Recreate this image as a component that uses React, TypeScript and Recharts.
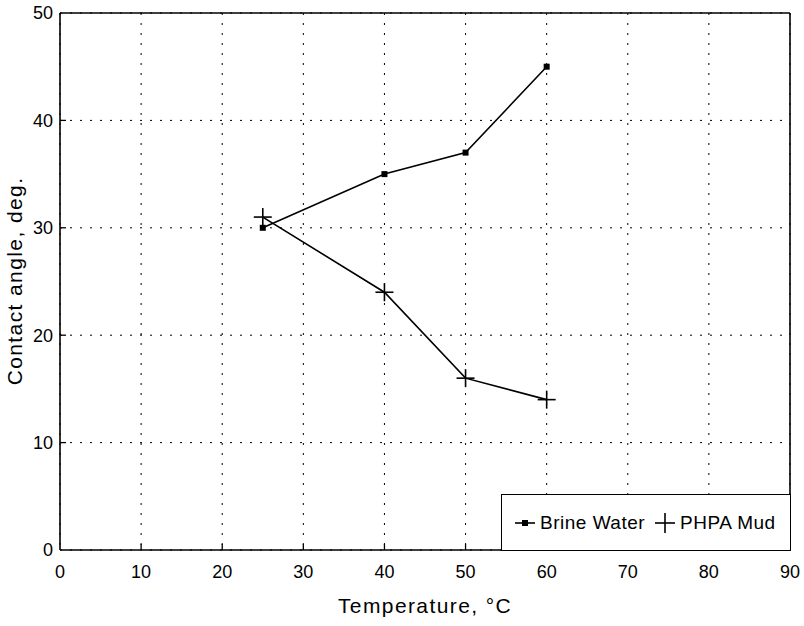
import React from "react";
import { LineChart, Line, XAxis, YAxis, CartesianGrid } from "recharts";

const temperatures = [25, 40, 50, 60];
const brineWater = [30, 35, 37, 45];
const phpaMud = [31, 24, 16, 14];
const xTicks = [0, 10, 20, 30, 40, 50, 60, 70, 80, 90];
const yTicks = [0, 10, 20, 30, 40, 50];

const data = temperatures.map((t, i) => ({ t, brine: brineWater[i], phpa: phpaMud[i] }));

const FONT = "'Liberation Sans', Arial, Helvetica, sans-serif";
const X_MARGIN = 15;
const Y_MARGIN = 7;

const XTick = (props: any) => {
  const { x, y, payload } = props;
  const axisY = y - X_MARGIN;
  return (
    <g>
      {payload.value !== 0 && payload.value !== 90 && (
        <line x1={x} y1={axisY} x2={x} y2={axisY - 6} stroke="#000" strokeWidth={1.3} />
      )}
      <text x={x} y={y} dy="0.71em" textAnchor="middle" fontSize={18} fontFamily={FONT} fill="#000">
        {payload.value}
      </text>
    </g>
  );
};

const YTick = (props: any) => {
  const { x, y, payload } = props;
  const axisX = x + Y_MARGIN;
  return (
    <g>
      {payload.value !== 0 && payload.value !== 50 && (
        <line x1={axisX} y1={y} x2={axisX + 6} y2={y} stroke="#000" strokeWidth={1.3} />
      )}
      <text x={x} y={y} dy="0.355em" textAnchor="end" fontSize={18} fontFamily={FONT} fill="#000">
        {payload.value}
      </text>
    </g>
  );
};

const SquareDot = (props: any) => {
  const { cx, cy } = props;
  if (cx == null || cy == null) return null;
  return <rect x={cx - 3} y={cy - 3} width={6} height={6} fill="#000" />;
};

const PlusDot = (props: any) => {
  const { cx, cy } = props;
  if (cx == null || cy == null) return null;
  return (
    <g stroke="#000" strokeWidth={1.6}>
      <line x1={cx - 9} y1={cy} x2={cx + 9} y2={cy} />
      <line x1={cx} y1={cy - 9} x2={cx} y2={cy + 9} />
    </g>
  );
};

export default function App() {
  return (
    <div style={{ position: "absolute", left: 0, top: 0, width: 804, height: 626, background: "#fff" }}>
      <LineChart width={804} height={626} data={data} margin={{ top: 12, right: 13, left: 0, bottom: 0 }}>
        <CartesianGrid stroke="#000" strokeDasharray="2 8" strokeWidth={1} />
        <XAxis
          dataKey="t"
          type="number"
          domain={[0, 90]}
          ticks={xTicks}
          interval={0}
          height={76}
          tickSize={0}
          tickMargin={X_MARGIN}
          tick={<XTick />}
          axisLine={{ stroke: "#000", strokeWidth: 1.6 }}
        />
        <XAxis xAxisId="top" orientation="top" type="number" domain={[0, 90]} height={1} tick={false} tickLine={false} axisLine={{ stroke: "#000", strokeWidth: 1.6 }} />
        <YAxis
          type="number"
          domain={[0, 50]}
          ticks={yTicks}
          interval={0}
          width={60}
          tickSize={0}
          tickMargin={Y_MARGIN}
          tick={<YTick />}
          axisLine={{ stroke: "#000", strokeWidth: 1.6 }}
        />
        <YAxis yAxisId="right" orientation="right" type="number" domain={[0, 50]} width={1} tick={false} tickLine={false} axisLine={{ stroke: "#000", strokeWidth: 1.6 }} />
        <Line dataKey="brine" stroke="#000" strokeWidth={1.6} dot={<SquareDot />} isAnimationActive={false} />
        <Line dataKey="phpa" stroke="#000" strokeWidth={1.6} dot={<PlusDot />} isAnimationActive={false} />
      </LineChart>
      <div
        style={{
          position: "absolute",
          left: 501,
          top: 494,
          width: 290,
          height: 57,
          boxSizing: "border-box",
          border: "1.5px solid #000",
          background: "#fff",
          display: "flex",
          alignItems: "center",
          fontFamily: FONT,
          fontSize: 19,
          letterSpacing: 0.5,
          color: "#000",
          whiteSpace: "nowrap",
        }}
      >
        <svg width={20} height={12} style={{ marginLeft: 13, flexShrink: 0 }}>
          <line x1={0} y1={6} x2={20} y2={6} stroke="#000" strokeWidth={1.6} />
          <rect x={7} y={3} width={6} height={6} fill="#000" />
        </svg>
        <span style={{ marginLeft: 5 }}>Brine Water</span>
        <svg width={20} height={20} style={{ marginLeft: 10, flexShrink: 0 }}>
          <line x1={0} y1={10} x2={20} y2={10} stroke="#000" strokeWidth={1.6} />
          <line x1={10} y1={0} x2={10} y2={20} stroke="#000" strokeWidth={1.6} />
        </svg>
        <span style={{ marginLeft: 5 }}>PHPA Mud</span>
      </div>
      <div
        style={{
          position: "absolute",
          left: 425,
          top: 606,
          transform: "translate(-50%, -50%)",
          fontFamily: FONT,
          fontSize: 21,
          letterSpacing: 1.4,
          whiteSpace: "nowrap",
          color: "#000",
        }}
      >
        Temperature, °C
      </div>
      <div
        style={{
          position: "absolute",
          left: 15,
          top: 281,
          transform: "translate(-50%, -50%) rotate(-90deg)",
          fontFamily: FONT,
          fontSize: 21,
          letterSpacing: 1.4,
          whiteSpace: "nowrap",
          color: "#000",
        }}
      >
        Contact angle, deg.
      </div>
    </div>
  );
}
